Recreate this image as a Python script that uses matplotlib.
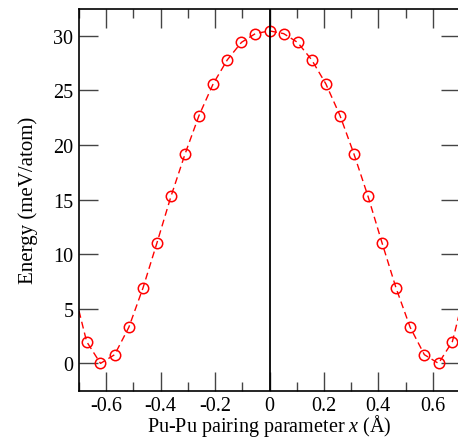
import numpy as np
import matplotlib
matplotlib.use("Agg")
import matplotlib.pyplot as plt
from matplotlib.ticker import MultipleLocator

plt.rcParams['font.family'] = ['Liberation Serif', 'DejaVu Serif']
plt.rcParams['mathtext.fontset'] = 'custom'
plt.rcParams['mathtext.it'] = 'Liberation Serif:italic'
plt.rcParams['mathtext.rm'] = 'Liberation Serif'

# data: pairing parameter (Å) and energy (meV/atom)
x_pts = [-0.672, -0.621, -0.569, -0.517, -0.465, -0.414, -0.362, -0.310, -0.259,
         -0.207, -0.155, -0.103, -0.052, 0.0, 0.052, 0.103, 0.155, 0.207, 0.259,
         0.310, 0.362, 0.414, 0.465, 0.517, 0.569, 0.621, 0.672]
e_pts = [2.0, 0.0, 0.8, 3.3, 6.9, 11.0, 15.3, 19.2, 22.7, 25.6, 27.8, 29.4, 30.2, 30.45,
         30.2, 29.4, 27.8, 25.6, 22.7, 19.2, 15.3, 11.0, 6.9, 3.3, 0.8, 0.0, 2.0]
# fitted curve end values at the axis limits
x_ends = [-0.70, 0.70]
e_ends = [4.8, 4.8]

x_line = [x_ends[0]] + x_pts + [x_ends[1]]
e_line = [e_ends[0]] + e_pts + [e_ends[1]]

fig = plt.figure(figsize=(4.58, 4.39), dpi=100)
ax = fig.add_axes([79/458, 1 - 391.7/439, (460 - 79)/458, (391.7 - 9.5)/439])

ax.plot(x_line, e_line, linestyle=(0, (5, 3)), color='red', linewidth=1.0)
ax.plot(x_pts, e_pts, linestyle='none', marker='o', markersize=7.5,
        markerfacecolor='none', markeredgecolor='red', markeredgewidth=1.1)
ax.axvline(0, color='black', linewidth=1.3)

ax.set_xlim(-0.7, 0.7)
ax.set_ylim(-2.5, 32.5)
ax.xaxis.set_minor_locator(MultipleLocator(0.1))
ax.set_xticks([-0.6, -0.4, -0.2, 0, 0.2, 0.4, 0.6])
ax.set_xticklabels(['-0.6', '-0.4', '-0.2', '0', '0.2', '0.4', '0.6'])
ax.set_yticks([0, 5, 10, 15, 20, 25, 30])
ax.set_yticklabels(['0', '5', '10', '15', '20', '25', '30'])

ax.tick_params(which='both', direction='in', top=True, right=True,
               labelsize=14.5, color='#444444')
ax.tick_params(which='major', length=13.5, width=1.0)
ax.tick_params(which='minor', length=6.8, width=1.0)
ax.tick_params(axis='x', which='major', pad=3.5)
ax.tick_params(axis='y', which='major', pad=4)
for s in ax.spines.values():
    s.set_linewidth(1.2)

ax.set_xlabel(r'Pu-Pu pairing parameter $x$ (Å)', fontsize=14.5, labelpad=-1.5)
ax.set_ylabel('Energy (meV/atom)', fontsize=15, labelpad=11)

fig.savefig('out.png', dpi=100)
